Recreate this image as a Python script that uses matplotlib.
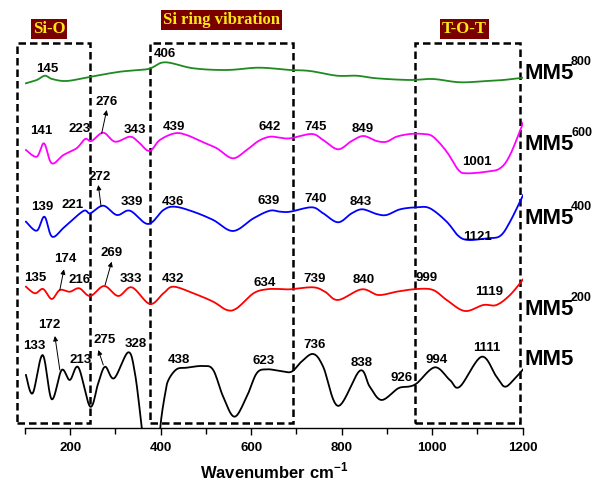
import matplotlib
matplotlib.use("Agg")
import numpy as np
import matplotlib.pyplot as plt
from matplotlib.patches import Rectangle

plt.rcParams['font.family'] = ['Liberation Sans', 'DejaVu Sans']
plt.rcParams['mathtext.fontset'] = 'custom'
plt.rcParams['mathtext.bf'] = 'Liberation Sans:bold'
plt.rcParams['mathtext.rm'] = 'Liberation Sans'

# ---------------- data (wavenumber cm-1, offset intensity a.u.) ----------------
w_800 = [102, 126, 144, 160, 192, 242, 310, 372, 409, 472, 546, 612, 663, 686, 730,
         789, 833, 877, 951, 1002, 1061, 1120, 1157, 1201]
y_800 = [344.7, 348, 352.3, 349, 347, 351, 356.3, 359, 365.7, 359.7, 358, 360.3, 359, 358, 357,
         352.3, 352.3, 349.7, 348, 349, 345.7, 347, 348, 350.3]

w_600 = [102, 126, 142, 159, 185, 214, 233, 247, 273, 299, 332, 350, 375, 398, 431, 457,
         494, 524, 559, 590, 616, 641, 664, 686, 734, 759, 792, 822, 848, 877, 899, 921,
         951, 980, 1002, 1032, 1058, 1076, 1120, 1150, 1172, 1201]
y_600 = [278, 271.3, 284.7, 264.7, 273, 279.7, 289, 287, 295.3, 286.3, 291.3, 286.3, 277, 288,
         294.7, 293, 285.7, 279.7, 269.7, 278, 287, 291.3, 290.3, 289.7, 294, 288, 278.7, 287,
         292, 287, 286.3, 291.3, 294, 294, 291.3, 276.3, 258, 254.7, 256.3, 259.7, 273, 305.3]

w_400 = [102, 126, 143, 160, 188, 229, 244, 273, 303, 332, 372, 406, 431, 472, 516, 560,
         605, 641, 664, 686, 734, 759, 792, 822, 846, 877, 899, 929, 966, 995, 1032, 1058,
         1080, 1120, 1150, 1172, 1201]
y_400 = [206.3, 197.3, 211.3, 191.3, 201.3, 217, 214.7, 222.3, 213, 217.3, 204, 218, 221.3,
         216.3, 208, 197, 209.7, 217.3, 216.3, 216.3, 220.7, 214.7, 205.7, 214.7, 218.7, 214,
         213, 218.7, 220.7, 219.7, 206.3, 192, 188, 189.7, 192, 206.3, 233]

w_200 = [102, 122, 140, 159, 177, 199, 220, 244, 275, 306, 336, 376, 406, 428, 472, 516,
         546, 568, 605, 634, 664, 686, 737, 763, 792, 844, 881, 921, 966, 1002, 1032, 1072,
         1113, 1142, 1172, 1201]
y_200 = [141.3, 134.7, 139, 129, 138, 136.3, 139.7, 132, 142, 132, 140.7, 124, 134.7, 141.3,
         134.7, 126.3, 118, 119.7, 134.7, 138.7, 139, 138.7, 140.7, 136.3, 128, 138.7, 133,
         136.3, 139, 138, 128, 117, 123, 123, 133, 148.7]

w_0 = [102, 117, 139, 159, 181, 199, 218, 244, 262, 277, 297, 328, 343, 358, 370, 392, 400,
       410, 417, 435, 457, 494, 516, 538, 563, 590, 612, 634, 664, 689, 711, 737, 759, 792,
       840, 862, 888, 925, 947, 966, 1006, 1039, 1061, 1109, 1142, 1161, 1183, 1201]
y_0 = [53, 34.7, 73, 28.7, 58, 48, 60.7, 21.3, 45, 61.3, 49.7, 75.7, 54.7, 1.3, -40, -40, 5,
       35, 48, 58.7, 60.3, 62, 58, 31.3, 11.3, 31.3, 54.7, 58.7, 57, 56.3, 66.3, 74, 61.3, 22,
       57.3, 41.3, 28, 39.7, 41.3, 44.7, 60.7, 48, 41.3, 71.3, 51.3, 41.3, 49.7, 58.7]

series = [
    (w_800, y_800, '#1f8a1f', 'MM5', '800', 355),
    (w_600, y_600, '#ff00ff', 'MM5', '600', 284),
    (w_400, y_400, '#0000ff', 'MM5', '400', 210),
    (w_200, y_200, '#ff0000', 'MM5', '200', 119),
    (w_0, y_0, '#000000', 'MM5', '', 69),
]

# peak labels: (text, x, y)
peak_labels = [
    ("145", 149, 358.7), ("406", 409, 374),
    ("141", 137, 297), ("223", 220, 298.7), ("343", 343, 298), ("439", 429, 301.3),
    ("642", 641, 301.3), ("745", 742, 301.3), ("849", 846, 299), ("1001", 1098, 265.7),
    ("139", 139, 221.3), ("221", 205, 223), ("339", 336, 226.3), ("436", 426, 226.3),
    ("639", 638, 227.3), ("740", 742, 228.7), ("843", 842, 226.3), ("1121", 1100, 191.3),
    ("135", 122, 149.7), ("216", 220, 148), ("333", 334, 148.7), ("432", 426, 148.7),
    ("634", 630, 145.3), ("739", 739, 148.7), ("840", 848, 148), ("999", 988, 149.7),
    ("1119", 1126, 136.3),
    ("133", 121, 82), ("213", 224, 68), ("328", 345, 83.7), ("438", 441, 68),
    ("623", 628, 67), ("736", 739, 83), ("838", 844, 64.7), ("926", 932, 50.3),
    ("994", 1010, 68), ("1111", 1120, 79.7),
]
# arrow labels: (text, text_x, text_y, tail_x, tail_y, head_x, head_y)
arrow_labels = [
    ("276", 281, 326.3, 269.5, 294.7, 280.6, 318),
    ("272", 264, 251.3, 268, 222, 262, 243),
    ("174", 190, 168.7, 177, 138, 186, 158.7),
    ("269", 292, 175.3, 277, 143, 291.6, 166.3),
    ("172", 154, 103, 177, 58, 166, 92),
    ("275", 277, 88, 273, 63, 262, 78),
]

# dashed region boxes: (w_start, w_end), label, label centre (px)
regions = [((82, 244), "Si-O", (49, 29)),
           ((375.5, 693), "Si ring vibration", (221, 20)),
           ((963, 1195), "T-O-T", (464, 29))]
box_bottom, box_top = 5.3, 385

ticks = [200, 400, 600, 800, 1000, 1200]


def smooth(x, y, n=10):
    """Catmull-Rom curve through the read points (drawing only)."""
    P = np.column_stack([x, y]).astype(float)
    P = np.vstack([P[0], P, P[-1]])
    out = []
    t = np.linspace(0, 1, n, endpoint=False)[:, None]
    for i in range(1, len(P) - 2):
        p0, p1, p2, p3 = P[i - 1], P[i], P[i + 1], P[i + 2]
        seg = 0.5 * ((2 * p1) + (-p0 + p2) * t + (2 * p0 - 5 * p1 + 4 * p2 - p3) * t ** 2
                     + (-p0 + 3 * p1 - 3 * p2 + p3) * t ** 3)
        out.append(seg)
    out.append(P[-2][None])
    out = np.vstack(out)
    return out[:, 0], out[:, 1]


# ---------------- figure ----------------
fig = plt.figure(figsize=(5.94, 4.86), dpi=100)
ax = fig.add_axes([25 / 594, 58 / 486, 497.7 / 594, 428 / 486])
ax.set_xlim(100, 1200)
ax.set_ylim(0, 428)

for w, y, c, name, sup, ly in series:
    sx, sy = smooth(w, y)
    ax.plot(sx, sy, color=c, lw=1.3, solid_joinstyle='round')
    ax.text(1205, ly, name, fontsize=16, fontweight='bold', ha='left', va='center',
            clip_on=False)
    if sup:
        ax.text(1307, ly + 11, sup, fontsize=9, fontweight='bold', ha='left',
                va='center', clip_on=False)

for t, x, y in peak_labels:
    ax.text(x, y, t, fontsize=9.5, fontweight='bold', ha='center', va='center')

for t, tx, ty, x0, y0, x1, y1 in arrow_labels:
    ax.text(tx, ty, t, fontsize=9.5, fontweight='bold', ha='center', va='center')
    ax.annotate('', xy=(x1, y1), xytext=(x0, y0),
                arrowprops=dict(arrowstyle='-|>', lw=0.7, color='black',
                                mutation_scale=7, shrinkA=0, shrinkB=0))

for (a, b), lab, _ in regions:
    r = Rectangle((a, box_bottom), b - a, box_top - box_bottom, fill=False,
                  edgecolor='black', lw=1.8, linestyle=(0, (3, 1.6)), clip_on=False)
    ax.add_patch(r)

for _, lab, (cx, cy) in regions:
    fig.text(cx / 594, 1 - cy / 486, lab, fontsize=12, fontweight='bold',
             family='Liberation Serif', color='#ffe81a', ha='center', va='center',
             bbox=dict(boxstyle='square,pad=0.12', facecolor='#7a0000', edgecolor='none'))

for s in ['left', 'right', 'top']:
    ax.spines[s].set_visible(False)
ax.spines['bottom'].set_linewidth(1.0)
ax.set_yticks([])
ax.set_xticks(ticks)
ax.set_xticks([100, 300, 500, 700, 900, 1100], minor=True)
ax.tick_params(axis='x', which='major', direction='out', length=5, width=1,
               labelsize=9.5, pad=5)
ax.tick_params(axis='x', which='minor', direction='out', length=4, width=1)
for lbl in ax.get_xticklabels():
    lbl.set_fontweight('bold')
ax.set_xlabel(r'Wavenumber cm$^{\mathbf{-1}}$', fontsize=12, fontweight='bold', labelpad=5)

fig.savefig('out.png', dpi=100)
